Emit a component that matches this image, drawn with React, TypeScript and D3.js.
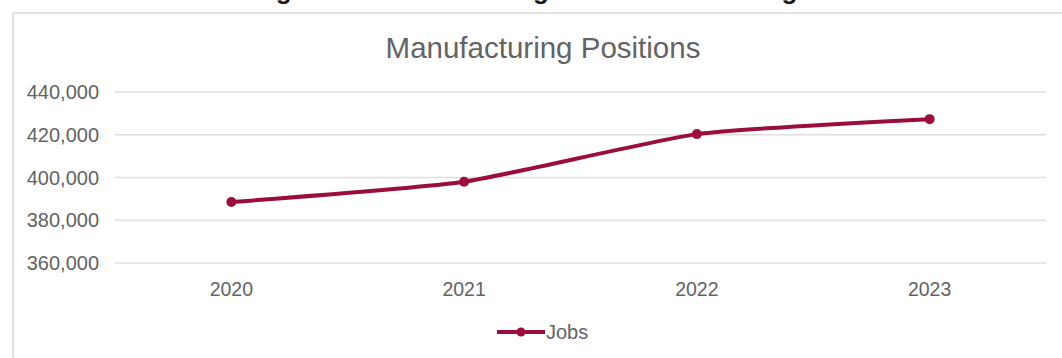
import React from "react";
import * as d3 from "d3";

const years = ["2020", "2021", "2022", "2023"];
const jobs = [388500, 398000, 420300, 427300];
const yTicks = [360000, 380000, 400000, 420000, 440000];
const chartTitle = "Manufacturing Positions";
const figureTitle = "Figure 4: Manufacturing Positions in Chicago";
const seriesName = "Jobs";

const W = 1062;
const H = 358;
const color = "#9B0D3F";
const textColor = "#636363";
const font = "'Liberation Sans', Arial, sans-serif";

export default function App() {
  const x = d3.scaleBand<string>().domain(years).range([115, 1046]);
  const y = d3.scaleLinear().domain([360000, 440000]).range([263, 92]);
  const cx = (d: string) => (x(d) as number) + x.bandwidth() / 2;
  const line = d3
    .line<number>()
    .x((_, i) => cx(years[i]))
    .y((d) => y(d))
    .curve(d3.curveCardinal.tension(0.5));
  return (
    <svg
      width={W}
      height={H}
      style={{ position: "absolute", left: 0, top: 0, background: "#fff" }}
      fontFamily={font}
    >
      <text x={533} y={-1} textAnchor="middle" fontSize={26} fontWeight="bold" fill="#111">
        {figureTitle}
      </text>
      <rect x={13} y={13} width={1070} height={360} fill="#fff" stroke="#D9D9D9" strokeWidth={1.5} />
      <text x={543} y={58} textAnchor="middle" fontSize={29.5} fill={textColor}>
        {chartTitle}
      </text>
      {yTicks.map((t) => (
        <g key={t}>
          <line x1={115} x2={1046} y1={y(t)} y2={y(t)} stroke="#DEDEDE" strokeWidth={1.5} />
          <text x={99} y={y(t)} dy="0.36em" textAnchor="end" fontSize={20} fill={textColor}>
            {d3.format(",")(t)}
          </text>
        </g>
      ))}
      {years.map((yr) => (
        <text key={yr} x={cx(yr)} y={296} textAnchor="middle" fontSize={19.5} fill={textColor}>
          {yr}
        </text>
      ))}
      <path d={line(jobs) || ""} fill="none" stroke={color} strokeWidth={4} strokeLinecap="round" />
      {jobs.map((v, i) => (
        <circle key={i} cx={cx(years[i])} cy={y(v)} r={5} fill={color} />
      ))}
      <line x1={497} x2={545} y1={332} y2={332} stroke={color} strokeWidth={4} />
      <circle cx={521} cy={332} r={4.5} fill={color} />
      <text x={546} y={332} dy="0.36em" fontSize={20} fill={textColor}>
        {seriesName}
      </text>
    </svg>
  );
}
